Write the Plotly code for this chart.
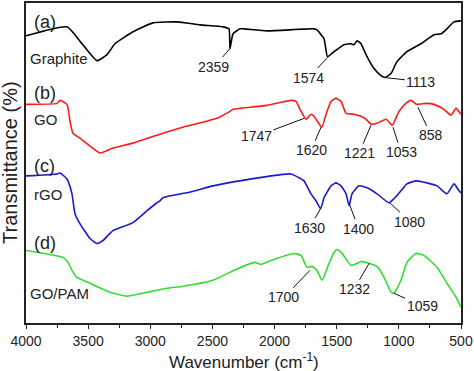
import plotly.graph_objects as go

# ---------------- data (wavenumber cm-1, transmittance a.u. with offsets) ----------------
graphite_wn = [4000, 3670, 3549, 3429, 3348, 3284, 3139, 2978, 2785, 2600, 2415, 2367, 2359, 2334,
               2278, 2246, 2061, 1683, 1659, 1602, 1574, 1522, 1441, 1385, 1361, 1337, 1305, 1256,
               1200, 1144, 1113, 1063, 1015, 935, 822, 717, 661, 613, 556, 500]
graphite_t = [296, 305, 288, 271, 277, 288, 300, 309, 310, 307, 305, 303, 283, 298,
              303, 303, 301, 303, 302, 293, 275, 280, 287, 288, 287, 291, 288, 275,
              263, 256, 254, 258, 270, 280, 288, 297, 298, 303, 310, 311]

go_wn = [4000, 3751, 3726, 3670, 3646, 3622, 3566, 3485, 3405, 3300, 3139, 2922, 2737, 2463,
         2359, 2334, 2278, 2061, 1868, 1828, 1787, 1747, 1707, 1683, 1620, 1586, 1546, 1506,
         1465, 1425, 1361, 1305, 1264, 1221, 1176, 1103, 1053, 999, 943, 902, 858, 782, 717,
         637, 580, 540, 500]
go_t = [227, 228, 231, 227, 210, 198, 193, 185, 178, 183, 188, 197, 204, 213,
        220, 222, 223, 226, 231, 230, 220, 212, 217, 215, 204, 217, 230, 233,
        230, 218, 217, 215, 212, 207, 208, 212, 206, 220, 228, 231, 227, 228, 227,
        222, 216, 223, 217]

rgo_wn = [4000, 3751, 3726, 3670, 3662, 3630, 3606, 3566, 3485, 3429, 3380, 3300, 3139, 3026,
          2946, 2922, 2898, 2841, 2705, 2495, 2334, 1868, 1787, 1763, 1707, 1667, 1630, 1602, 1546,
          1506, 1465, 1425, 1400, 1377, 1321, 1256, 1176, 1080, 1039, 983, 935, 862, 774, 693,
          613, 556, 516, 500]
rgo_t = [155, 157, 158, 152, 150, 137, 117, 107, 92, 87, 90, 100, 108, 120,
         128, 130, 133, 135, 138, 145, 149, 157, 152, 150, 137, 130, 122, 133, 145,
         148, 145, 137, 125, 137, 145, 143, 137, 128, 132, 140, 147, 150, 148, 145,
         137, 147, 140, 138]

gopam_wn = [4000, 3702, 3662, 3630, 3590, 3485, 3324, 3187, 3059, 2866, 2737, 2495, 2326, 2190,
            2157, 2109, 2005, 1844, 1787, 1739, 1699, 1659, 1618, 1562, 1522, 1498, 1457, 1385,
            1337, 1296, 1240, 1176, 1119, 1063, 1039, 983, 935, 862, 798, 693, 613, 540, 500]
gopam_t = [80, 73, 68, 60, 53, 47, 38, 34, 37, 42, 44, 50, 60, 67,
           68, 66, 71, 77, 75, 63, 64, 60, 50, 67, 78, 81, 77, 65,
           67, 69, 67, 64, 53, 38, 37, 50, 68, 77, 75, 63, 47, 33, 23]

series_names = ["Graphite", "GO", "rGO", "GO/PAM"]
series_tags = ["(a)", "(b)", "(c)", "(d)"]
series_colors = ["#000000", "#ff1a1a", "#1a1acc", "#33dd33"]

# peak labels: (label, wavenumber, transmittance at curve, text offset x px, text offset y px)
peak_labels = [
    ("2359", 2359, 283, -16, 18),
    ("1574", 1574, 274, -19, 20),
    ("1113", 1113, 254, 36, 4),
    ("1747", 1760, 213, -48, 18),
    ("1620", 1626, 204, -10, 23),
    ("1221", 1224, 206, -12, 28),
    ("1053", 1047, 204, 8, 25),
    ("858", 846, 224, 13, 28),
    ("1630", 1630, 122, -11, 19),
    ("1400", 1396, 126, 9, 24),
    ("1080", 1072, 128, 20, 19),
    ("1700", 1715, 60, -26, 27),
    ("1232", 1240, 67, -15, 26),
    ("1059", 1039, 37, 28, 13),
]

# series label positions (wavenumber, transmittance)
tag_pos = [(3952, 310), (3952, 238), (3952, 165), (3952, 88)]
name_pos = [(3984, 273), (3952, 212), (3952, 136), (3984, 37)]

x_ticks = [4000, 3500, 3000, 2500, 2000, 1500, 1000, 500]

FONT = "Liberation Sans, Arial, sans-serif"

fig = go.Figure()
for wn, t, c, n in zip([graphite_wn, go_wn, rgo_wn, gopam_wn],
                       [graphite_t, go_t, rgo_t, gopam_t], series_colors, series_names):
    fig.add_trace(go.Scatter(x=wn, y=t, mode="lines", name=n,
                             line=dict(color=c, width=1.6, shape="spline", smoothing=0.45)))

anns = []
for lab, x, y, ax, ay in peak_labels:
    anns.append(dict(x=x, y=y, text=lab, showarrow=True, arrowhead=0, arrowwidth=1,
                     arrowcolor="#111", ax=ax, ay=ay, standoff=0,
                     font=dict(family=FONT, size=14, color="#222")))
for (x, y), tag in zip(tag_pos, series_tags):
    anns.append(dict(x=x, y=y, text=tag, showarrow=False, xanchor="left", yanchor="middle",
                     font=dict(family=FONT, size=18, color="#222")))
for (x, y), nm in zip(name_pos, series_names):
    anns.append(dict(x=x, y=y, text=nm, showarrow=False, xanchor="left", yanchor="middle",
                     font=dict(family=FONT, size=15, color="#222")))
anns.append(dict(xref="paper", yref="paper", x=0.5, y=0, yshift=-38, text="Wavenumber (cm<sup>-1</sup>)",
                 showarrow=False, xanchor="center", yanchor="middle",
                 font=dict(family=FONT, size=17, color="#222")))
anns.append(dict(xref="paper", yref="paper", x=0, y=0.5, xshift=-16, text="Transmittance (%)",
                 textangle=-90, showarrow=False, xanchor="center", yanchor="middle",
                 font=dict(family=FONT, size=20, color="#222")))

fig.update_layout(
    width=474, height=371,
    margin=dict(l=26, r=12, t=1, b=48),
    paper_bgcolor="white", plot_bgcolor="white",
    showlegend=False,
    annotations=anns,
    font=dict(family=FONT, color="#222"),
)
fig.update_xaxes(range=[4000, 500], tickvals=x_ticks, ticktext=[str(v) for v in x_ticks],
                 ticks="outside", ticklen=4, tickwidth=1.2, tickcolor="#222",
                 minor=dict(ticks="outside", ticklen=3, tickwidth=1.2, tickcolor="#222", dtick=250, tick0=500),
                 showline=True, linecolor="#222", linewidth=1.5, mirror=True,
                 showgrid=False, zeroline=False, tickfont=dict(family=FONT, size=14, color="#222"))
fig.update_yaxes(range=[7, 329], showticklabels=False, ticks="", showline=True, linecolor="#222",
                 linewidth=1.5, mirror=True, showgrid=False, zeroline=False)

fig.write_html("out.html", config={"displayModeBar": False},
               post_script="document.body.style.margin='0';document.body.style.overflow='hidden';")
